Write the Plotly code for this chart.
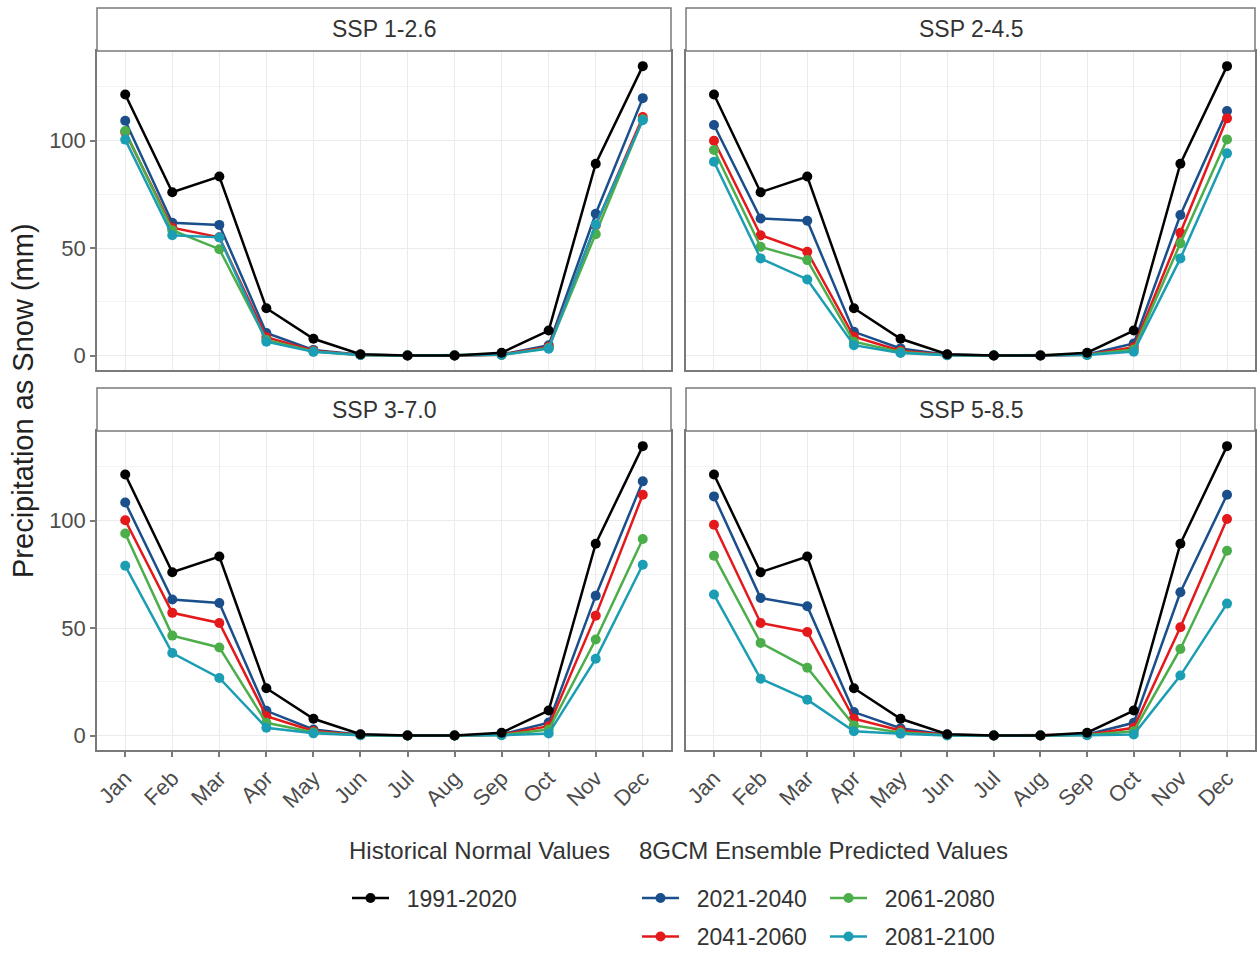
import plotly.graph_objects as go

# ---------------- data ----------------
months = ["Jan", "Feb", "Mar", "Apr", "May", "Jun", "Jul", "Aug", "Sep", "Oct", "Nov", "Dec"]
scenarios = ["SSP 1-2.6", "SSP 2-4.5", "SSP 3-7.0", "SSP 5-8.5"]
periods = ["2021-2040", "2041-2060", "2061-2080", "2081-2100"]

hist_1991_2020 = [121.5, 76.0, 83.3, 22.0, 7.8, 0.6, 0.0, 0.0, 1.3, 11.6, 89.3, 134.7]

ssp126_2021_2040 = [109.3, 61.8, 60.8, 10.5, 2.6, 0.3, 0.0, 0.0, 0.5, 4.8, 66.0, 119.8]
ssp126_2041_2060 = [104.0, 59.5, 55.0, 8.5, 2.2, 0.2, 0.0, 0.0, 0.4, 4.0, 60.5, 111.0]
ssp126_2061_2080 = [104.5, 58.3, 49.5, 7.2, 1.9, 0.2, 0.0, 0.0, 0.3, 3.5, 56.5, 110.0]
ssp126_2081_2100 = [100.5, 56.0, 55.0, 6.4, 1.7, 0.2, 0.0, 0.0, 0.3, 3.2, 61.0, 109.5]

ssp245_2021_2040 = [107.3, 63.8, 62.7, 11.0, 3.3, 0.3, 0.0, 0.0, 0.5, 5.6, 65.4, 113.8]
ssp245_2041_2060 = [100.0, 56.0, 48.3, 8.7, 2.2, 0.2, 0.0, 0.0, 0.4, 3.8, 57.1, 110.4]
ssp245_2061_2080 = [95.7, 50.6, 44.4, 6.4, 1.6, 0.1, 0.0, 0.0, 0.3, 2.8, 52.2, 100.6]
ssp245_2081_2100 = [90.2, 45.2, 35.4, 4.8, 1.2, 0.1, 0.0, 0.0, 0.2, 1.8, 45.2, 94.1]

ssp370_2021_2040 = [108.5, 63.3, 61.7, 11.5, 2.8, 0.3, 0.0, 0.0, 0.5, 6.0, 65.1, 118.3]
ssp370_2041_2060 = [100.2, 57.1, 52.4, 9.0, 2.1, 0.2, 0.0, 0.0, 0.4, 4.3, 55.8, 112.1]
ssp370_2061_2080 = [94.0, 46.5, 41.0, 5.9, 1.5, 0.1, 0.0, 0.0, 0.2, 2.8, 44.7, 91.5]
ssp370_2081_2100 = [79.0, 38.4, 26.8, 3.6, 1.0, 0.1, 0.0, 0.0, 0.1, 0.9, 35.7, 79.5]

ssp585_2021_2040 = [111.3, 64.0, 60.2, 10.9, 3.4, 0.3, 0.0, 0.0, 0.5, 5.9, 66.7, 112.1]
ssp585_2041_2060 = [98.1, 52.4, 48.2, 7.8, 2.3, 0.2, 0.0, 0.0, 0.3, 3.6, 50.4, 100.8]
ssp585_2061_2080 = [83.7, 43.1, 31.5, 4.7, 1.4, 0.1, 0.0, 0.0, 0.2, 2.0, 40.3, 86.0]
ssp585_2081_2100 = [65.6, 26.4, 16.7, 2.0, 0.8, 0.0, 0.0, 0.0, 0.1, 0.5, 27.9, 61.4]

y_ticks = [0, 50, 100]

# ---------------- styling ----------------
W, H = 1258, 958
FONT = "Liberation Sans, Arial, sans-serif"
colors = {"1991-2020": "#000000", "2021-2040": "#1a4f8b", "2041-2060": "#e3191c",
          "2061-2080": "#4cae4a", "2081-2100": "#1b9db3"}
legend_of = {"1991-2020": "legend", "2021-2040": "legend2", "2061-2080": "legend2",
             "2041-2060": "legend3", "2081-2100": "legend3"}
rank_of = {"1991-2020": 1, "2021-2040": 1, "2061-2080": 2, "2041-2060": 1, "2081-2100": 2}

proj = {
    "SSP 1-2.6": [ssp126_2021_2040, ssp126_2041_2060, ssp126_2061_2080, ssp126_2081_2100],
    "SSP 2-4.5": [ssp245_2021_2040, ssp245_2041_2060, ssp245_2061_2080, ssp245_2081_2100],
    "SSP 3-7.0": [ssp370_2021_2040, ssp370_2041_2060, ssp370_2061_2080, ssp370_2081_2100],
    "SSP 5-8.5": [ssp585_2021_2040, ssp585_2041_2060, ssp585_2061_2080, ssp585_2081_2100],
}

# panel pixel boxes in page coordinates
px_cols = [(97, 671), (686, 1255)]
px_rows = [(51, 370), (431, 750)]
strip_h = 43


def px2x(p):
    return p / W


def px2y(p):
    return (H - p) / H


fig = go.Figure()
panels = [(0, 0), (0, 1), (1, 0), (1, 1)]

for i, scen in enumerate(scenarios):
    ax = "" if i == 0 else str(i + 1)
    series = [(p, proj[scen][k]) for k, p in enumerate(periods)] + [("1991-2020", hist_1991_2020)]
    for name, vals in series:
        fig.add_trace(go.Scatter(
            x=months, y=vals, mode="lines+markers", name="\u00a0\u00a0" + name,
            line=dict(color=colors[name], width=2.5),
            marker=dict(color=colors[name], size=10),
            xaxis="x" + ax, yaxis="y" + ax,
            legend=legend_of[name], showlegend=(i == 0),
            legendrank=rank_of[name],
        ))

grid_col = "#ebebeb"
border_col = "#7a7a7a"
tick_font = dict(family=FONT, size=22, color="#4d4d4d")

layout = dict(
    width=W, height=H, margin=dict(l=0, r=0, t=0, b=0),
    paper_bgcolor="white", plot_bgcolor="white",
    font=dict(family=FONT, color="#333333"),
)

shapes = []
annotations = []
for i, (r, c) in enumerate(panels):
    ax = "" if i == 0 else str(i + 1)
    x0, x1 = px_cols[c]
    yt, yb = px_rows[r]
    xa = dict(
        domain=[px2x(x0), px2x(x1)], anchor="y" + ax, type="category",
        range=[-0.6, 11.6], showgrid=True, gridcolor=grid_col, gridwidth=1.2,
        showline=True, linecolor=border_col, linewidth=1.5, mirror=True,
        zeroline=False, automargin=False, fixedrange=True,
        tickfont=tick_font, tickangle=-45,
    )
    if r == 1:
        xa.update(ticks="outside", ticklen=5, tickcolor=border_col, tickwidth=1.5,
                  showticklabels=True)
    else:
        xa.update(ticks="", showticklabels=False)
    ya = dict(
        domain=[px2y(yb), px2y(yt)], anchor="x" + ax,
        range=[-6.75, 141.75], tickvals=y_ticks,
        showgrid=True, gridcolor=grid_col, gridwidth=1.2,
        minor=dict(tickvals=[25, 75, 125], showgrid=True, gridcolor="#f3f3f3", gridwidth=0.8),
        showline=True, linecolor=border_col, linewidth=1.5, mirror=True,
        zeroline=False, automargin=False, fixedrange=True,
        tickfont=tick_font,
    )
    if c == 0:
        ya.update(ticks="outside", ticklen=5, tickcolor=border_col, tickwidth=1.5,
                  showticklabels=True)
    else:
        ya.update(ticks="", showticklabels=False)
    layout["xaxis" + ax] = xa
    layout["yaxis" + ax] = ya

    # facet strip
    shapes.append(dict(type="rect", xref="paper", yref="paper",
                       x0=px2x(x0), x1=px2x(x1), y0=px2y(yt), y1=px2y(yt - strip_h),
                       fillcolor="white", line=dict(color=border_col, width=1.5), layer="above"))
    annotations.append(dict(text=scenarios[i], xref="paper", yref="paper",
                            x=px2x((x0 + x1) / 2), y=px2y(yt - strip_h / 2),
                            showarrow=False, xanchor="center", yanchor="middle",
                            font=dict(family=FONT, size=23, color="#333333")))

# y axis title
annotations.append(dict(text="Precipitation as Snow (mm)", xref="paper", yref="paper",
                        x=px2x(23), y=px2y(401), textangle=-90, showarrow=False,
                        xanchor="center", yanchor="middle",
                        font=dict(family=FONT, size=29, color="#222222")))
# legend titles
annotations.append(dict(text="Historical Normal Values", xref="paper", yref="paper",
                        x=px2x(347), y=px2y(850), showarrow=False, xanchor="left", yanchor="middle",
                        font=dict(family=FONT, size=24, color="#333333")))
annotations.append(dict(text="8GCM Ensemble Predicted Values", xref="paper", yref="paper",
                        x=px2x(637), y=px2y(850), showarrow=False, xanchor="left", yanchor="middle",
                        font=dict(family=FONT, size=24, color="#333333")))

leg_font = dict(family=FONT, size=23, color="#333333")
layout["legend"] = dict(orientation="h", x=px2x(347), y=px2y(898), xanchor="left", yanchor="middle",
                        font=leg_font, bgcolor="rgba(0,0,0,0)", itemwidth=37, traceorder="normal")
layout["legend2"] = dict(orientation="h", x=px2x(637), y=px2y(898), xanchor="left", yanchor="middle",
                         font=leg_font, bgcolor="rgba(0,0,0,0)", itemwidth=37, entrywidth=136,
                         traceorder="normal")
layout["legend3"] = dict(orientation="h", x=px2x(637), y=0, xanchor="left", yanchor="bottom",
                         font=leg_font, bgcolor="rgba(0,0,0,0)", itemwidth=37, entrywidth=136,
                         traceorder="normal")
layout["shapes"] = shapes
layout["annotations"] = annotations
layout["showlegend"] = True

fig.update_layout(**layout)
fig.write_html("out.html", config={"displayModeBar": False},
               post_script="document.body.style.margin='0';document.body.style.overflow='hidden';")
